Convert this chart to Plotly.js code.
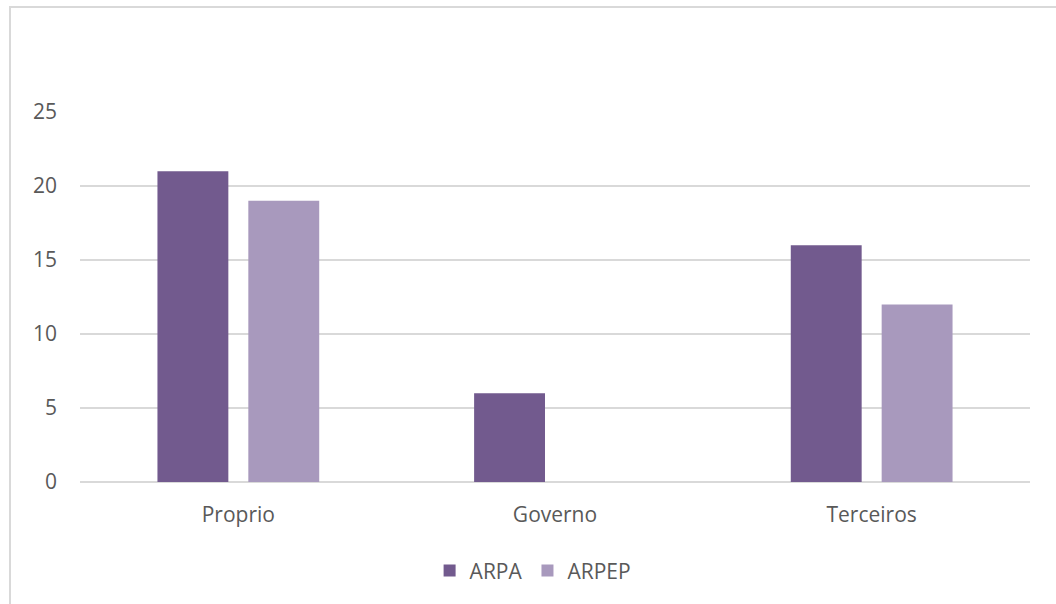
<!DOCTYPE html>
<html>
<head>
<meta charset="utf-8">
<script src="https://cdn.plot.ly/plotly-3.0.1.min.js"></script>
<style>
  html, body { margin: 0; padding: 0; background: #ffffff; }
  #wrap { position: relative; width: 1056px; height: 604px; overflow: hidden; }
  #frame { position: absolute; left: 9px; top: 6px; width: 1100px; height: 700px;
           border-top: 2px solid #d9d9d9; border-left: 2px solid #d9d9d9; pointer-events: none; }
  #chart { position: absolute; left: 0; top: 0; width: 1056px; height: 604px; }
</style>
</head>
<body>
<div id="wrap">
  <div id="chart"></div>
  <div id="frame"></div>
</div>
<script>
const categories = ["Proprio", "Governo", "Terceiros"];
const arpaValues = [21, 6, 16];
const arpepValues = [19, 0, 12];
const seriesNames = ["ARPA", "ARPEP"];
const yTicks = [0, 5, 10, 15, 20, 25];

const fontFamily = "'Open Sans', 'Noto Sans', sans-serif";
const textColor = "#595959";
const fontSize = 21;

const traces = [
  { type: "bar", name: seriesNames[0], x: categories, y: arpaValues,
    marker: { color: "#725A8E" }, hoverinfo: "skip" },
  { type: "bar", name: seriesNames[1], x: categories, y: arpepValues,
    marker: { color: "#A899BD" }, hoverinfo: "skip" }
];

const layout = {
  width: 1056, height: 604,
  margin: { l: 80, r: 26, t: 112, b: 122, pad: 0 },
  paper_bgcolor: "rgba(0,0,0,0)",
  plot_bgcolor: "rgba(0,0,0,0)",
  barmode: "group",
  bargap: 0.426,
  bargroupgap: 0.22,
  font: { family: fontFamily, size: fontSize, color: textColor },
  showlegend: true,
  legend: {
    orientation: "h", x: 0.368, xanchor: "left", y: -0.24, yanchor: "middle",
    font: { family: fontFamily, size: fontSize, color: textColor },
    itemwidth: 30, traceorder: "normal"
  },
  xaxis: {
    type: "category", showgrid: false, zeroline: false, showline: false,
    ticks: "", ticklen: 0, ticklabelstandoff: 18,
    tickfont: { family: fontFamily, size: fontSize, color: textColor },
    automargin: false
  },
  yaxis: {
    range: [0, 25], tickvals: yTicks, ticktext: yTicks.map(String),
    showgrid: true, gridcolor: "#d9d9d9", gridwidth: 2,
    zeroline: true, zerolinecolor: "#d9d9d9", zerolinewidth: 2,
    showline: false, ticks: "", ticklabelstandoff: 22,
    tickfont: { family: fontFamily, size: fontSize, color: textColor },
    automargin: false, fixedrange: true
  }
};

Plotly.newPlot("chart", traces, layout, { staticPlot: true, displayModeBar: false });
</script>
</body>
</html>
